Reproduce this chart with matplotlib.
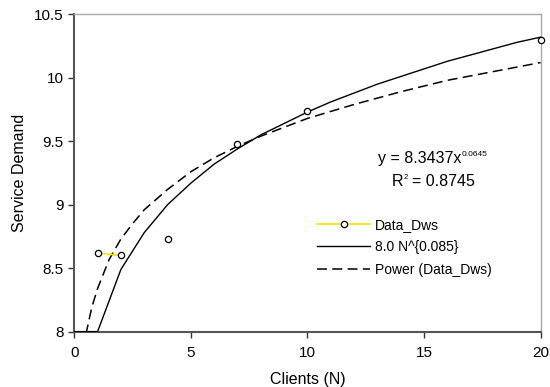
import matplotlib
matplotlib.use("Agg")
import matplotlib.pyplot as plt

# measured points (Data_Dws)
clients = [1, 2, 4, 7, 10, 20]
demand = [8.62, 8.60, 8.73, 9.48, 9.74, 10.30]

# model curve 8.0 N^{0.085}, read at integer N (N=0 sits on the axis floor)
model_n = list(range(0, 21))
model_y = [8.00, 8.00, 8.49, 8.78, 9.00, 9.17, 9.32, 9.44, 9.55, 9.64, 9.73,
           9.81, 9.88, 9.95, 10.01, 10.07, 10.13, 10.18, 10.23, 10.28, 10.32]

# Excel power trendline of Data_Dws
trend_x = [0.5, 0.75, 1, 1.5, 2, 2.5, 3, 4, 5, 6, 7, 8, 10, 12, 14, 16, 18, 20]
trend_y = [7.98, 8.19, 8.34, 8.57, 8.73, 8.85, 8.96, 9.12, 9.26, 9.37, 9.46,
           9.54, 9.68, 9.79, 9.89, 9.98, 10.05, 10.12]

x_ticks = [0, 5, 10, 15, 20]
y_ticks = [8, 8.5, 9, 9.5, 10, 10.5]
y_tick_labels = ["8", "8.5", "9", "9.5", "10", "10.5"]

plt.rcParams["font.family"] = ["Liberation Sans", "DejaVu Sans"]

fig = plt.figure(figsize=(5.5, 3.87), dpi=100)
ax = fig.add_axes([0.135, 0.143, 0.848, 0.820])

# yellow link only between the first two measurements
ax.plot(clients[:2], demand[:2], color="#f2e200", lw=1.2, zorder=3)
ax.plot(clients, demand, linestyle="none", marker="o", ms=4.5, mfc="white",
        mec="black", mew=0.9, zorder=4, clip_on=False)
data_handle, = ax.plot([], [], color="#f2e200", lw=1.2, marker="o", ms=4.5,
                       mfc="white", mec="black", mew=0.9)
model_handle, = ax.plot(model_n, model_y, color="black", lw=1.0, zorder=3)
trend_handle, = ax.plot(trend_x, trend_y, color="black", lw=1.1,
                        dashes=(6.5, 3.5), zorder=2)

ax.set_xlim(0, 20)
ax.set_ylim(8, 10.5)
ax.set_xticks(x_ticks)
ax.set_yticks(y_ticks)
ax.set_yticklabels(y_tick_labels)
ax.tick_params(direction="out", length=4, width=1, colors="#333333",
               labelsize=11, labelcolor="black")
ax.tick_params(axis="x", pad=6)

for side in ["left", "bottom"]:
    ax.spines[side].set_color("#555555")
    ax.spines[side].set_linewidth(1.5)
for side in ["top", "right"]:
    ax.spines[side].set_color("#a9a9a9")
    ax.spines[side].set_linewidth(1.0)

ax.set_xlabel("Clients (N)", fontsize=11.5, labelpad=9)
ax.set_ylabel("Service Demand", fontsize=11.5, labelpad=5)

ax.legend([data_handle, model_handle, trend_handle],
          ["Data_Dws", "8.0 N^{0.085}", "Power (Data_Dws)"],
          loc="upper left", bbox_to_anchor=(0.494, 0.398), frameon=False,
          fontsize=10, handlelength=3.8, labelspacing=0.6, handletextpad=0.35)

# trendline equation with a small raised exponent, as Excel draws it
eq = ax.text(0.651, 0.547, "y = 8.3437x", transform=ax.transAxes,
             ha="left", va="center", fontsize=11.5)
ax.annotate("0.0645", xy=(1.0, 1.0), xycoords=eq, ha="left", va="top",
            fontsize=6)
r_txt = ax.text(0.681, 0.472, "R", transform=ax.transAxes,
                ha="left", va="center", fontsize=11.5)
ax.annotate("2", xy=(1.0, 1.0), xycoords=r_txt, ha="left", va="top",
            fontsize=5.5)
ax.annotate("= 0.8745", xy=(1.0, 0.0), xycoords=r_txt, xytext=(6, 0),
            textcoords="offset points", ha="left", va="bottom", fontsize=11.5)

fig.savefig("out.png", dpi=100)
